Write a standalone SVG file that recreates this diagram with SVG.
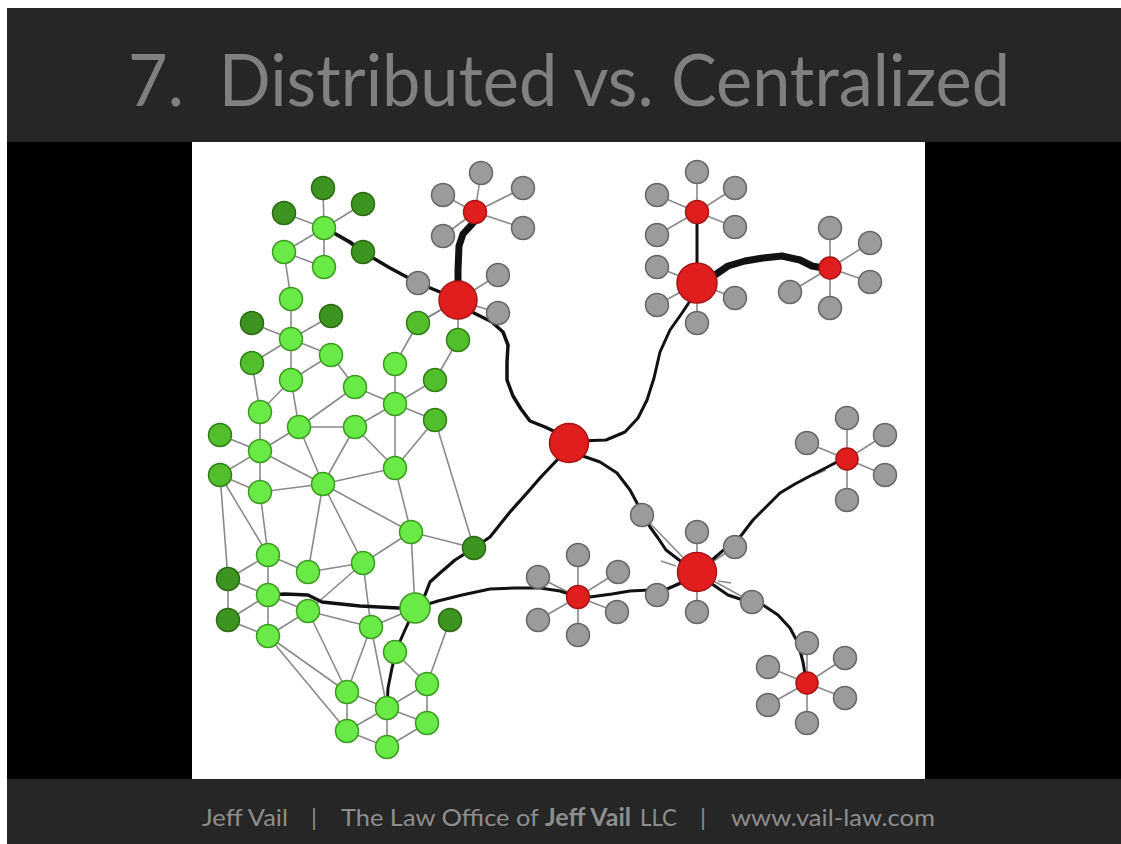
<svg xmlns="http://www.w3.org/2000/svg" width="1121" height="844" viewBox="0 0 1121 844">
<style>
.t{stroke:#8a8a8a;stroke-width:1.6;fill:none}
.k{stroke:#111;fill:none;stroke-linecap:round;stroke-linejoin:round}
.gd{fill:#3e9420;stroke:#2a6a12;stroke-width:1.5}
.gm{fill:#52be2c;stroke:#2f7d17;stroke-width:1.5}
.gl{fill:#6aea46;stroke:#3a9a20;stroke-width:1.5}
.gy{fill:#9b9b9b;stroke:#666;stroke-width:1.5}
.rd{fill:#e01e1e;stroke:#a81414;stroke-width:1.5}
.ttl{font-family:Lato,"Open Sans",sans-serif;fill:#808080}
.ft{font-family:Lato,"Open Sans",sans-serif;font-size:24px;fill:#8e8e8e}
</style>
<rect x="0" y="0" width="1121" height="844" fill="#ffffff"/>
<rect x="7" y="8" width="1114" height="836" fill="#000000"/>
<rect x="7" y="8" width="1114" height="134" fill="#262626"/>
<rect x="7" y="779" width="1114" height="65" fill="#262626"/>
<rect x="192" y="142" width="733" height="637" fill="#ffffff"/>
<text class="ttl" x="128" y="106" font-size="72" textLength="882" lengthAdjust="spacingAndGlyphs">7.&#160;&#160;Distributed vs. Centralized</text>
<g id="footer">
<text class="ft" x="202" y="826" textLength="86" lengthAdjust="spacingAndGlyphs">Jeff Vail</text>
<text class="ft" x="311" y="826">|</text>
<text class="ft" x="341" y="826" textLength="198" lengthAdjust="spacingAndGlyphs">The Law Office of</text>
<text class="ft" x="545" y="826" font-weight="bold" fill="#a8a8a8" textLength="86" lengthAdjust="spacingAndGlyphs">Jeff Vail</text>
<text class="ft" x="640" y="826" textLength="37" lengthAdjust="spacingAndGlyphs">LLC</text>
<text class="ft" x="700" y="826">|</text>
<text class="ft" x="731" y="826" textLength="204" lengthAdjust="spacingAndGlyphs">www.vail-law.com</text>
</g>
<g id="connectors">
<path class="t" d="M324,228L323,188M324,228L284,213M324,228L363,204M324,228L284,252M324,228L324,267M324,228L363,252
M284,252L324,267M284,252L291,299M291,299L291,339M291,339L252,323M291,339L331,316M291,339L331,355M291,339L252,363M291,339L291,380
M291,380L331,355M331,355L355,387M355,387L395,404M291,380L260,412M291,380L299,427M252,363L260,412M299,427L355,387M299,427L355,427
M355,427L395,404M395,364L395,404M395,364L418,323M418,323L458,300M458,340L458,300M458,340L435,380M435,380L395,404M395,404L435,420
M395,404L395,468M435,420L395,468M435,420L474,548M355,427L395,468M355,427L323,484M299,427L323,484M260,412L260,451M220,435L260,451
M260,451L299,427M260,451L323,484M260,451L260,492M220,475L260,451M220,475L260,492M260,492L323,484M323,484L395,468M323,484L363,563
M323,484L411,532M323,484L308,572M220,475L268,555M220,475L228,579M260,492L268,555M395,468L411,532M411,532L474,548M411,532L363,563
M411,532L415,608M268,555L268,595M228,579L268,555M268,555L308,572M308,572L363,563M363,563L371,627M308,611L363,563M228,579L268,595
M228,579L228,620M268,595L308,611M268,595L268,636M228,620L268,595M228,620L268,636M268,636L308,611M308,611L371,627M371,627L415,608
M308,611L347,692M268,636L347,692M268,636L347,731M371,627L347,692M371,627L387,708M450,620L427,684M395,652L427,684M427,684L427,723
M427,684L387,708M347,692L387,708M347,692L347,731M387,708L427,723M387,708L387,747M347,731L387,708M347,731L387,747M387,747L427,723"/>
<path class="t" d="M475,212L481,173M475,212L443,195M475,212L523,188M475,212L523,228M475,212L443,236
M458,300L418,283M458,300L498,275M458,300L498,313M458,300L418,323
M697,212L697,172M697,212L657,195M697,212L735,188M697,212L735,227M697,212L657,235
M697,283L657,267M697,283L657,305M697,283L697,323M697,283L735,298
M830,268L830,228M830,268L870,243M830,268L870,282M830,268L790,292M830,268L830,308
M697,572L697,532M697,572L697,612M697,572L735,547M697,572L752,602M697,572L657,595M697,572L642,515
M578,597L578,555M578,597L538,577M578,597L618,572M578,597L617,612M578,597L538,620M578,597L578,635
M847,459L847,418M847,459L807,443M847,459L885,435M847,459L885,475M847,459L847,500
M807,683L807,643M807,683L768,667M807,683L845,658M807,683L845,698M807,683L768,705M807,683L807,723
M661,561L676,566M718,581L731,583M812,476L826,470"/>
<path class="k" stroke-width="3.5" d="M334,233L350,242L363,252L390,268L418,283L440,292L458,300"/>
<path class="k" stroke-width="7" d="M474,222L463,234L459,246L458,270L458,290"/>
<path class="k" stroke-width="3.5" d="M472,312L492,322L503,332L508,345L507,362L507,380L513,396L521,409L530,421L545,427L560,434"/>
<path class="k" stroke-width="3" d="M580,441L606,440L625,432L638,418L647,400L654,378L660,352L670,330L682,313L692,298"/>
<path class="k" stroke-width="3" d="M697,222L697,266"/>
<path class="k" stroke-width="7" d="M712,277L728,266L745,261L763,258L782,256L800,260L812,266L823,268"/>
<path class="k" stroke-width="3.2" d="M558,459L540,478L527,493L510,512L490,537L474,548L455,560L440,573L430,582L425,595L418,604"/>
<path class="k" stroke-width="3" d="M580,455L600,462L617,473L630,490L637,503L642,515L650,527L658,538L666,550L683,563"/>
<path class="k" stroke-width="3" d="M712,560L726,548L740,537L753,520L766,507L780,493L795,484L810,476L837,462"/>
<path class="k" stroke-width="3" d="M712,584L728,595L743,600L763,605L778,615L790,628L798,643L803,662L806,680"/>
<path class="k" stroke-width="3" d="M681,583L667,589L650,590L630,591L612,594L590,597L578,597L560,591L540,588L515,588L490,589L462,595L438,601L415,608"/>
<path class="k" stroke-width="3.5" d="M415,608L398,608L360,606L322,602L308,595L285,594L268,595"/>
<path class="k" stroke-width="3" d="M415,608L405,630L397,648L392,668L388,688L387,708"/>
</g>
<g id="nodes">
<g id="g1"><circle class="gd" cx="323" cy="188" r="11.5"/></g>
<g id="g2"><circle class="gd" cx="284" cy="213" r="11.5"/></g>
<g id="g3"><circle class="gd" cx="363" cy="204" r="11.5"/></g>
<g id="g4"><circle class="gl" cx="324" cy="228" r="11.5"/></g>
<g id="g5"><circle class="gl" cx="284" cy="252" r="11.5"/></g>
<g id="g6"><circle class="gl" cx="324" cy="267" r="11.5"/></g>
<g id="g7"><circle class="gd" cx="363" cy="252" r="11.5"/></g>
<g id="g8"><circle class="gl" cx="291" cy="299" r="11.5"/></g>
<g id="g9"><circle class="gd" cx="252" cy="323" r="11.5"/></g>
<g id="g10"><circle class="gd" cx="331" cy="316" r="11.5"/></g>
<g id="g11"><circle class="gl" cx="291" cy="339" r="11.5"/></g>
<g id="g12"><circle class="gl" cx="331" cy="355" r="11.5"/></g>
<g id="g13"><circle class="gm" cx="252" cy="363" r="11.5"/></g>
<g id="g14"><circle class="gm" cx="418" cy="323" r="11.5"/></g>
<g id="g15"><circle class="gm" cx="458" cy="340" r="11.5"/></g>
<g id="g16"><circle class="gl" cx="291" cy="380" r="11.5"/></g>
<g id="g17"><circle class="gl" cx="355" cy="387" r="11.5"/></g>
<g id="g18"><circle class="gl" cx="395" cy="364" r="11.5"/></g>
<g id="g19"><circle class="gm" cx="435" cy="380" r="11.5"/></g>
<g id="g20"><circle class="gl" cx="260" cy="412" r="11.5"/></g>
<g id="g21"><circle class="gl" cx="395" cy="404" r="11.5"/></g>
<g id="g22"><circle class="gm" cx="435" cy="420" r="11.5"/></g>
<g id="g23"><circle class="gm" cx="220" cy="435" r="11.5"/></g>
<g id="g24"><circle class="gl" cx="299" cy="427" r="11.5"/></g>
<g id="g25"><circle class="gl" cx="355" cy="427" r="11.5"/></g>
<g id="g26"><circle class="gl" cx="260" cy="451" r="11.5"/></g>
<g id="g27"><circle class="gm" cx="220" cy="475" r="11.5"/></g>
<g id="g28"><circle class="gl" cx="323" cy="484" r="11.5"/></g>
<g id="g29"><circle class="gl" cx="395" cy="468" r="11.5"/></g>
<g id="g30"><circle class="gl" cx="260" cy="492" r="11.5"/></g>
<g id="g31"><circle class="gl" cx="411" cy="532" r="11.5"/></g>
<g id="g32"><circle class="gd" cx="474" cy="548" r="11.5"/></g>
<g id="g33"><circle class="gl" cx="268" cy="555" r="11.5"/></g>
<g id="g34"><circle class="gl" cx="308" cy="572" r="11.5"/></g>
<g id="g35"><circle class="gl" cx="363" cy="563" r="11.5"/></g>
<g id="g36"><circle class="gd" cx="228" cy="579" r="11.5"/></g>
<g id="g37"><circle class="gl" cx="268" cy="595" r="11.5"/></g>
<g id="g38"><circle class="gl" cx="308" cy="611" r="11.5"/></g>
<g id="g39"><circle class="gl" cx="415" cy="608" r="15"/></g>
<g id="g40"><circle class="gl" cx="371" cy="627" r="11.5"/></g>
<g id="g41"><circle class="gd" cx="450" cy="620" r="11.5"/></g>
<g id="g42"><circle class="gd" cx="228" cy="620" r="11.5"/></g>
<g id="g43"><circle class="gl" cx="268" cy="636" r="11.5"/></g>
<g id="g44"><circle class="gl" cx="395" cy="652" r="11.5"/></g>
<g id="g45"><circle class="gl" cx="427" cy="684" r="11.5"/></g>
<g id="g46"><circle class="gl" cx="347" cy="692" r="11.5"/></g>
<g id="g47"><circle class="gl" cx="387" cy="708" r="11.5"/></g>
<g id="g48"><circle class="gl" cx="427" cy="723" r="11.5"/></g>
<g id="g49"><circle class="gl" cx="347" cy="731" r="11.5"/></g>
<g id="g50"><circle class="gl" cx="387" cy="747" r="11.5"/></g>

<g id="s1"><circle class="gy" cx="481" cy="173" r="11.5"/></g>
<g id="s2"><circle class="gy" cx="443" cy="195" r="11.5"/></g>
<g id="s3"><circle class="gy" cx="523" cy="188" r="11.5"/></g>
<g id="s4"><circle class="gy" cx="523" cy="228" r="11.5"/></g>
<g id="s5"><circle class="gy" cx="443" cy="236" r="11.5"/></g>
<g id="s6"><circle class="gy" cx="418" cy="283" r="11.5"/></g>
<g id="s7"><circle class="gy" cx="498" cy="275" r="11.5"/></g>
<g id="s8"><circle class="gy" cx="498" cy="313" r="11.5"/></g>
<g id="s9"><circle class="gy" cx="697" cy="172" r="11.5"/></g>
<g id="s10"><circle class="gy" cx="657" cy="195" r="11.5"/></g>
<g id="s11"><circle class="gy" cx="735" cy="188" r="11.5"/></g>
<g id="s12"><circle class="gy" cx="735" cy="227" r="11.5"/></g>
<g id="s13"><circle class="gy" cx="657" cy="235" r="11.5"/></g>
<g id="s14"><circle class="gy" cx="657" cy="267" r="11.5"/></g>
<g id="s15"><circle class="gy" cx="657" cy="305" r="11.5"/></g>
<g id="s16"><circle class="gy" cx="697" cy="323" r="11.5"/></g>
<g id="s17"><circle class="gy" cx="735" cy="298" r="11.5"/></g>
<g id="s18"><circle class="gy" cx="830" cy="228" r="11.5"/></g>
<g id="s19"><circle class="gy" cx="870" cy="243" r="11.5"/></g>
<g id="s20"><circle class="gy" cx="870" cy="282" r="11.5"/></g>
<g id="s21"><circle class="gy" cx="790" cy="292" r="11.5"/></g>
<g id="s22"><circle class="gy" cx="830" cy="308" r="11.5"/></g>
<g id="s23"><circle class="gy" cx="642" cy="515" r="11.5"/></g>
<g id="s24"><circle class="gy" cx="697" cy="532" r="11.5"/></g>
<g id="s25"><circle class="gy" cx="735" cy="547" r="11.5"/></g>
<g id="s26"><circle class="gy" cx="752" cy="602" r="11.5"/></g>
<g id="s27"><circle class="gy" cx="697" cy="612" r="11.5"/></g>
<g id="s28"><circle class="gy" cx="657" cy="595" r="11.5"/></g>
<g id="s29"><circle class="gy" cx="578" cy="555" r="11.5"/></g>
<g id="s30"><circle class="gy" cx="538" cy="577" r="11.5"/></g>
<g id="s31"><circle class="gy" cx="618" cy="572" r="11.5"/></g>
<g id="s32"><circle class="gy" cx="617" cy="612" r="11.5"/></g>
<g id="s33"><circle class="gy" cx="538" cy="620" r="11.5"/></g>
<g id="s34"><circle class="gy" cx="578" cy="635" r="11.5"/></g>
<g id="s35"><circle class="gy" cx="847" cy="418" r="11.5"/></g>
<g id="s36"><circle class="gy" cx="807" cy="443" r="11.5"/></g>
<g id="s37"><circle class="gy" cx="885" cy="435" r="11.5"/></g>
<g id="s38"><circle class="gy" cx="885" cy="475" r="11.5"/></g>
<g id="s39"><circle class="gy" cx="847" cy="500" r="11.5"/></g>
<g id="s40"><circle class="gy" cx="807" cy="643" r="11.5"/></g>
<g id="s41"><circle class="gy" cx="768" cy="667" r="11.5"/></g>
<g id="s42"><circle class="gy" cx="845" cy="658" r="11.5"/></g>
<g id="s43"><circle class="gy" cx="845" cy="698" r="11.5"/></g>
<g id="s44"><circle class="gy" cx="768" cy="705" r="11.5"/></g>
<g id="s45"><circle class="gy" cx="807" cy="723" r="11.5"/></g>

<g id="r1"><circle class="rd" cx="458" cy="300" r="19"/></g>
<g id="r2"><circle class="rd" cx="475" cy="212" r="11.5"/></g>
<g id="c0"><circle class="rd" cx="569" cy="443" r="19.5"/></g>
<g id="r3"><circle class="rd" cx="697" cy="283" r="20"/></g>
<g id="r4"><circle class="rd" cx="697" cy="212" r="11.5"/></g>
<g id="r5"><circle class="rd" cx="830" cy="268" r="11"/></g>
<g id="r6"><circle class="rd" cx="697" cy="572" r="19.5"/></g>
<g id="r7"><circle class="rd" cx="847" cy="459" r="11"/></g>
<g id="r8"><circle class="rd" cx="807" cy="683" r="11"/></g>
<g id="r9"><circle class="rd" cx="578" cy="597" r="11.5"/></g>
</g>
</svg>
